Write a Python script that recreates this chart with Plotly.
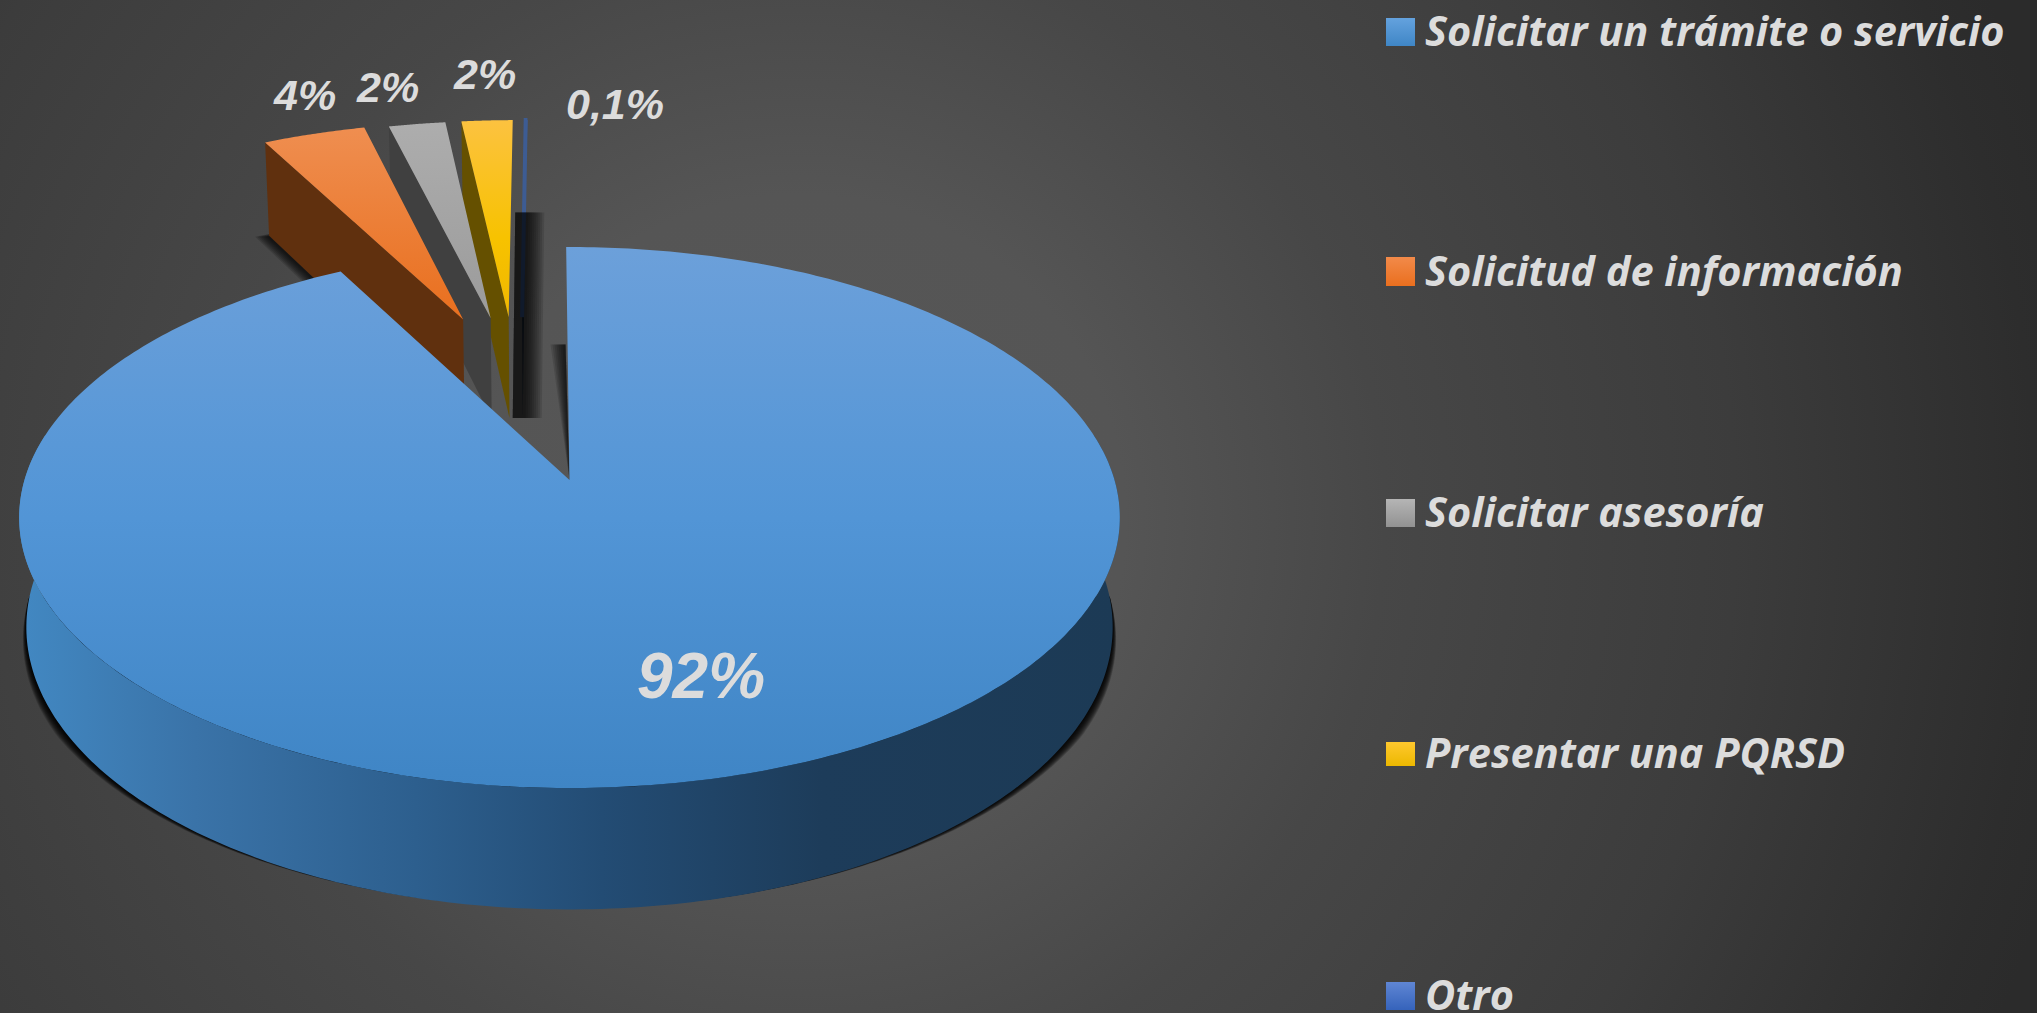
import numpy as np
import plotly.graph_objects as go

# ---- data ----
categories = ["Solicitar un trámite o servicio", "Solicitud de información",
              "Solicitar asesoría", "Presentar una PQRSD", "Otro"]
values = [92.3, 3.7, 2.05, 1.85, 0.1]
value_labels = ["92%", "4%", "2%", "2%", "0,1%"]

# ---- style / layout ----
W, H = 2037, 1013
CX, Y0 = 569.5, 480.0          # projected pie centre
A, B, Q = 545.0, 265.3, 0.1387 # projected radii and perspective
DEPTH, BOT = 108.0, 0.987      # extrusion
MAIN_ROT = -0.4                # small rotation of the main slice
explode = [(0, 0), (-.213, .66), (-.158, .666), (-.122, .671), (-.095, .671)]
# colours listed from the bottom of each shape to its top (the y axis runs downwards)
top_cols = [
    [[0, "#3f85c5"], [.5, "#5295d6"], [1, "#6ca0da"]],
    [[0, "#e96f1e"], [1, "#ef8e50"]],
    [[0, "#9b9b9b"], [1, "#adadad"]],
    [[0, "#f0b800"], [.4, "#f7c200"], [1, "#fcc240"]],
    [[0, "#34507f"], [1, "#3f6099"]],
]
wall_cols = ["#1c3a55", "#60300e", "#404040", "#655000", "#1e2a3a"]
blue_wall = [[0, "#4288c2"], [.16, "#3a73a8"], [.36, "#2d5f8e"], [.53, "#234c74"],
             [.73, "#1d3c5a"], [1, "#1c3a55"]]
label_pos = [(701, 676), (304, 95), (387, 87), (484, 74), (615, 104)]
label_size = [64, 43, 43, 43, 43]
legend_x, legend_w = 1386, 29
legend_y = [(18, 46), (257, 286), (499, 527), (742, 766), (982, 1010)]
legend_cols = [
    [[0, "#3f86c6"], [1, "#64a2de"]],
    [[0, "#ea6f1e"], [1, "#f28a4a"]],
    [[0, "#929292"], [1, "#b5b5b5"]],
    [[0, "#ecb800"], [1, "#ffc82e"]],
    [[0, "#3563bb"], [1, "#5f86d4"]],
]
TXT = "#dcdcdc"


def top(u, v, off=(0, 0)):
    u, v = np.asarray(u) + off[0], np.asarray(v) + off[1]
    w = 1 + Q * v
    return CX + A * u / w, Y0 - B * v / w


def bottom(u, v, off=(0, 0), sx=1.0):
    u, v = np.asarray(u) + off[0], np.asarray(v) + off[1]
    w = 1 + Q * v
    return CX + sx * A * BOT * u / w, Y0 - B * BOT * v / w + DEPTH / w


def arc(a0, a1, n=160):
    t = np.radians(np.linspace(a0, a1, n))
    return np.sin(t), np.cos(t)


fig = go.Figure()


def poly(x, y, color=None, grad=None, orient="vertical", name=None, line=None, lw=1.2):
    kw = dict(x=np.round(x, 2).tolist(), y=np.round(y, 2).tolist(), fill="toself",
              mode="lines" if line else "none", hoverinfo="skip", showlegend=False)
    if name:
        kw["name"] = name
    if line:
        kw["line"] = dict(color=line, width=lw)
    if grad:
        kw["fillgradient"] = dict(type=orient, colorscale=grad)
        kw["fillcolor"] = "rgba(0,0,0,0)"
    else:
        kw["fillcolor"] = color
    fig.add_trace(go.Scatter(**kw))


# background radial gradient
bgx, bgy, R = 800, 520, 1300
poly([bgx - R, bgx + R, bgx + R, bgx - R], [bgy - R, bgy - R, bgy + R, bgy + R],
     grad=[[0, "#575757"], [.25, "#555555"], [.45, "#474747"], [.72, "#3c3c3c"],
           [.95, "#2d2d2d"], [1, "#2b2b2b"]],
     orient="radial")

# angular extents from the values
edges = np.concatenate([[0], np.cumsum(values)]) / np.sum(values) * 360

# soft shadow under the main slice, tapering towards the sides
angs = np.linspace(92, 268, 200)
u, v = arc(92, 268, 200)
taper = np.clip(np.minimum(angs - 92, 268 - angs) / 28, 0, 1)
for k in np.linspace(1.024, 1.002, 12):
    bx, by = bottom(u, v, sx=1 + (k - 1) * taper)
    poly(bx, by - 1, color="rgba(0,0,0,0.17)")

# shadow of the start edge of the main slice (in the notch)
ax, ay = top([0, 0, 0], [0, .55, .55])
for d in np.linspace(15, 1, 8):
    poly([ax[0], ax[1] - 4, ax[2] - 4 - d], [ay[0], ay[1], ay[2]], color="rgba(0,0,0,0.13)")

# exploded slices, back to front
for i in (4, 3, 2, 1):
    a0, a1 = edges[i], edges[i + 1]
    off = explode[i]
    u, v = arc(a0, a1, 40)
    if i == 1:
        bx, by = bottom(np.r_[0, u], np.r_[0, v], off)
        for d in np.linspace(14, 2, 7):
            poly(bx - d, by + 1, color="rgba(0,0,0,0.15)")
    # radial wall facing left
    su, sv = np.sin(np.radians(a0)), np.cos(np.radians(a0))
    tx, ty = top([0, su], [0, sv], off)
    bx, by = bottom([0, su], [0, sv], off)
    poly([tx[0], tx[1], bx[1], bx[0]], [ty[0], ty[1], by[1], by[0]], color=wall_cols[i])
    # top face
    tx, ty = top(np.r_[0, u], np.r_[0, v], off)
    poly(tx, ty, grad=top_cols[i], name=categories[i],
         line=("#3d5c93" if i == 4 else None), lw=4)
    # ground shadow falling over the thinnest slice
    if i == 4:
        eu, ev = np.array([0, u[0]]), np.array([0, v[0]])
        ex, ey = bottom(eu, ev, off)
        for d in np.linspace(19, 3, 9):
            poly([ex[0] - 10, ex[1] - 10, ex[1] + d, ex[0] + d], [ey[0], ey[1], ey[1], ey[0]],
                 color="rgba(0,0,0,0.12)")

# main slice wall and top face
u, v = arc(80, 280, 240)
tx, ty = top(u, v)
bx, by = bottom(u, v)
poly(np.r_[tx, bx[::-1]], np.r_[ty, by[::-1]], grad=blue_wall, orient="horizontal")
u, v = arc(edges[0] + MAIN_ROT, edges[1] + MAIN_ROT, 400)
tx, ty = top(np.r_[0, u], np.r_[0, v])
poly(tx, ty, grad=top_cols[0], name=categories[0])

# legend swatches
for (y0, y1), g, c in zip(legend_y, legend_cols, categories):
    poly([legend_x, legend_x + legend_w, legend_x + legend_w, legend_x], [y0, y0, y1, y1],
         grad=g, name=c)

ann = []
for t, (x, y), s in zip(value_labels, label_pos, label_size):
    ann.append(dict(x=x, y=y, text=f"<b><i>{t}</i></b>", showarrow=False, xanchor="center",
                    yanchor="middle", font=dict(family="Liberation Sans", size=s, color=TXT)))
for c, (y0, y1) in zip(categories, legend_y):
    ann.append(dict(x=1423, y=(y0 + y1) / 2 - 2, text=f"<b><i>{c}</i></b>", showarrow=False,
                    xanchor="left", yanchor="middle",
                    font=dict(family="Open Sans", size=41.5, color=TXT)))

fig.update_layout(
    width=W, height=H, margin=dict(l=0, r=0, t=0, b=0),
    paper_bgcolor="#444444", plot_bgcolor="#444444", annotations=ann, showlegend=False,
    xaxis=dict(range=[0, W], visible=False, fixedrange=True),
    yaxis=dict(range=[H, 0], visible=False, fixedrange=True),
)
fig.write_html("out.html", config=dict(displayModeBar=False),
               post_script="document.body.style.margin='0';document.body.style.overflow='hidden';")
